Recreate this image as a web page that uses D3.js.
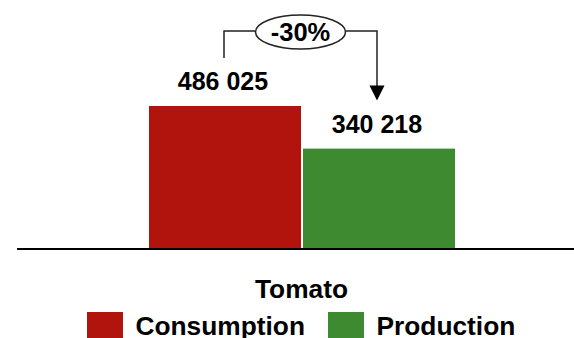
<!DOCTYPE html>
<html>
<head>
<meta charset="utf-8">
<script src="https://cdn.jsdelivr.net/npm/d3@7"></script>
<style>
  html, body { margin: 0; padding: 0; background: #fff; }
  svg { display: block; }
  text { font-family: "Liberation Sans", Arial, Helvetica, sans-serif; font-weight: bold; fill: #000; }
</style>
</head>
<body>
<script>
const category = "Tomato";
const series = ["Consumption", "Production"];
const values = [486025, 340218];
const colors = ["#B0140C", "#3D8A31"];

const W = 574, H = 338;
const svg = d3.select("body").append("svg").attr("width", W).attr("height", H);

const y = d3.scaleLinear().domain([0, 700000]).range([248, 43.5]);
const x = d3.scaleBand().domain(series).range([149, 455]).paddingInner(0.013).paddingOuter(0);
const bw = x.bandwidth();
const fmt = v => d3.format(",")(v).replace(/,/g, " ");

// bars
svg.selectAll("rect.bar").data(series).join("rect")
  .attr("class", "bar")
  .attr("x", d => x(d))
  .attr("y", (d, i) => y(values[i]))
  .attr("width", bw)
  .attr("height", (d, i) => y(0) - y(values[i]))
  .attr("fill", (d, i) => colors[i]);

// axis baseline
svg.append("line")
  .attr("x1", 17).attr("x2", W)
  .attr("y1", y(0) + 1).attr("y2", y(0) + 1)
  .attr("stroke", "#000").attr("stroke-width", 2);

// value labels
svg.selectAll("text.val").data(series).join("text")
  .attr("class", "val")
  .attr("x", d => x(d) + bw / 2 - 2)
  .attr("y", (d, i) => y(values[i]) - 16)
  .attr("text-anchor", "middle")
  .attr("font-size", 25)
  .text((d, i) => fmt(values[i]));

// annotation
const pct = Math.round((values[1] - values[0]) / values[0] * 100);
const xL = x(series[0]) + bw / 2 - 1;
const xR = x(series[1]) + bw / 2 - 2;
const yTopL = y(values[0]) - 48;
const yTipR = y(values[1]) - 48;
const yH = 31, cx = (xL + xR) / 2, cy = 32, rx = 45, ry = 17;
const stroke = "#222";

svg.append("path")
  .attr("d", `M${xL},${yTopL}V${yH}H${cx - rx}`)
  .attr("fill", "none").attr("stroke", stroke).attr("stroke-width", 1.5);
svg.append("path")
  .attr("d", `M${cx + rx},${yH}H${xR}V${yTipR - 14}`)
  .attr("fill", "none").attr("stroke", stroke).attr("stroke-width", 1.5);
svg.append("path")
  .attr("d", `M${xR - 7.5},${yTipR - 15}L${xR + 7.5},${yTipR - 15}L${xR},${yTipR}Z`)
  .attr("fill", "#000");
svg.append("ellipse")
  .attr("cx", cx).attr("cy", cy).attr("rx", rx).attr("ry", ry)
  .attr("fill", "#fff").attr("stroke", stroke).attr("stroke-width", 1.5);
svg.append("text")
  .attr("x", cx).attr("y", cy + 9)
  .attr("text-anchor", "middle").attr("font-size", 25.5)
  .text((pct > 0 ? "+" : "") + pct + "%");

// category label
svg.append("text")
  .attr("x", 301.5).attr("y", 298)
  .attr("text-anchor", "middle").attr("font-size", 26.3)
  .text(category);

// legend
const legendX = [87, 328];
const lg = svg.selectAll("g.leg").data(series).join("g")
  .attr("class", "leg")
  .attr("transform", (d, i) => `translate(${legendX[i]},312)`);
lg.append("rect").attr("width", 36).attr("height", 36).attr("fill", (d, i) => colors[i]);
lg.append("text").attr("x", 48.5).attr("y", 23).attr("font-size", 26.3).text(d => d);
</script>
</body>
</html>
